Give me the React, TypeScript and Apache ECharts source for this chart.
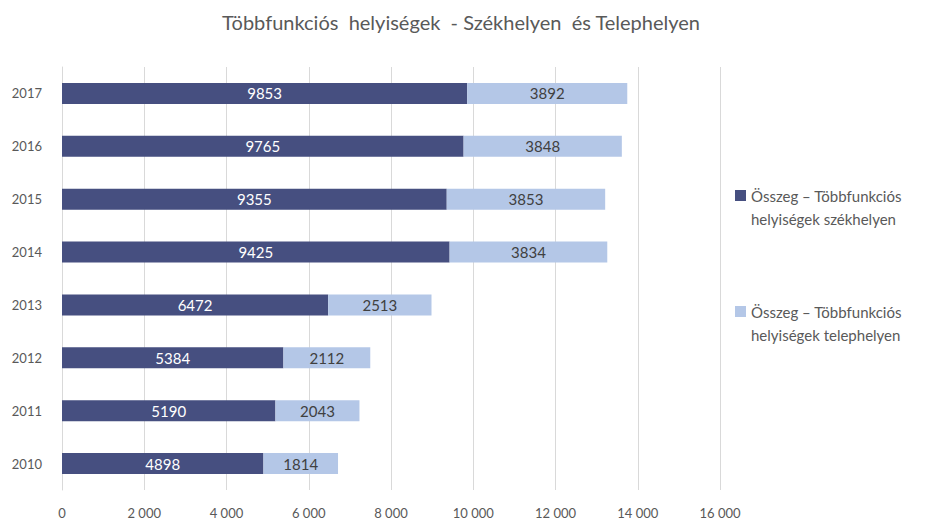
import React, { useEffect, useRef } from "react";
import * as echarts from "echarts";

const years = ["2010", "2011", "2012", "2013", "2014", "2015", "2016", "2017"];
const szekhelyen = [4898, 5190, 5384, 6472, 9425, 9355, 9765, 9853];
const telephelyen = [1814, 2043, 2112, 2513, 3834, 3853, 3848, 3892];
const seriesNames = [
  "Összeg – Többfunkciós\nhelyiségek székhelyen",
  "Összeg – Többfunkciós\nhelyiségek telephelyen",
];
const titleText = "Többfunkciós  helyiségek  - Székhelyen  és Telephelyen";

const FONT = "Lato, 'Open Sans', sans-serif";
// square icon aligned with the first text line (tiny invisible point stretches the box)
const LEGEND_ICON = "path://M0,0L11,0L11,11L0,11Z M0,33.95L0.05,34L0,34Z";

export default function App() {
  const ref = useRef<HTMLDivElement>(null);
  useEffect(() => {
    const chart = echarts.init(ref.current!, null, { renderer: "svg" });
    chart.setOption({
      animation: false,
      backgroundColor: "#ffffff",
      textStyle: { fontFamily: FONT },
      title: {
        text: titleText,
        left: 456,
        textAlign: "center",
        top: 7,
        textStyle: { fontFamily: FONT, fontSize: 20, fontWeight: "normal", color: "#595959" },
      },
      legend: {
        orient: "vertical",
        left: 735,
        top: 184,
        padding: 0,
        itemWidth: 11,
        itemHeight: 34,
        itemGap: 70,
        icon: LEGEND_ICON,
        data: seriesNames,
        textStyle: {
          fontFamily: FONT,
          fontSize: 15,
          color: "#595959",
          lineHeight: 23,
        },
      },
      grid: { left: 62, right: 213, top: 67, bottom: 29, containLabel: false },
      xAxis: {
        type: "value",
        min: 0,
        max: 16000,
        interval: 2000,
        axisLine: { show: false },
        axisTick: { show: false },
        splitLine: { lineStyle: { color: "#d9d9d9", width: 1 } },
        axisLabel: {
          color: "#595959",
          fontSize: 13,
          fontFamily: FONT,
          margin: 16,
          formatter: (v: number) => String(v).replace(/\B(?=(\d{3})+(?!\d))/g, " "),
        },
      },
      yAxis: {
        type: "category",
        data: years,
        axisLine: { show: true, lineStyle: { color: "#d9d9d9" } },
        axisTick: { show: false },
        axisLabel: { color: "#595959", fontSize: 13, fontFamily: FONT, margin: 20 },
      },
      series: [
        {
          name: seriesNames[0],
          type: "bar",
          stack: "total",
          data: szekhelyen,
          barWidth: 21,
          itemStyle: { color: "#464f80" },
          label: { show: true, position: "inside", color: "#ffffff", fontSize: 15, fontFamily: FONT },
        },
        {
          name: seriesNames[1],
          type: "bar",
          stack: "total",
          data: telephelyen,
          barWidth: 21,
          itemStyle: { color: "#b4c7e7" },
          label: { show: true, position: "inside", color: "#404040", fontSize: 15, fontFamily: FONT },
        },
      ],
    });
    return () => chart.dispose();
  }, []);
  return <div ref={ref} style={{ width: 933, height: 519, margin: "-8px 0 0 -8px" }} />;
}
